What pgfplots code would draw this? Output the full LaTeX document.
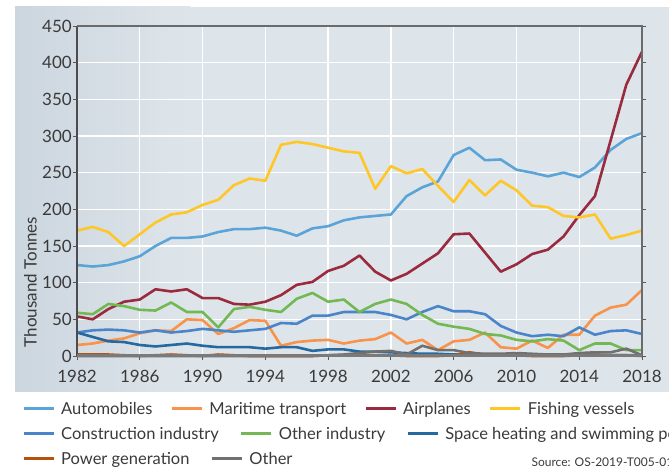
\documentclass[border=0pt]{standalone}
\usepackage{pgfplots}
\pgfplotsset{compat=1.18}
\usepackage{fontspec}
\setmainfont{Lato}
\definecolor{bg}{HTML}{DEE5EA}
\definecolor{bgl}{HTML}{CCD6DF}
\definecolor{cauto}{HTML}{5BA4D8}
\definecolor{cmar}{HTML}{F7934A}
\definecolor{cair}{HTML}{9A2A3E}
\definecolor{cfish}{HTML}{FFC627}
\definecolor{ccons}{HTML}{4A85C9}
\definecolor{cind}{HTML}{72B853}
\definecolor{cheat}{HTML}{2669A0}
\definecolor{cpow}{HTML}{B3530D}
\definecolor{coth}{HTML}{707070}
\definecolor{txt}{HTML}{3A3A3A}
\newcommand{\tickfont}{\fontsize{17}{17}\selectfont}
\newcommand{\legfont}{\fontsize{16.5}{17}\selectfont}

\pgfplotstableread{
year auto mar air fish cons ind heat pow oth
1982 124 15 54 171 32 59 32 2 0
1983 122 17 50 176 35 57 26 2 0
1984 124 21 64 169 36 71 20 2 0
1985 129 24 74 150 35 68 19 1 0
1986 136 31 77 166 32 63 15 0 0
1987 150 35 91 182 35 62 13 1 0
1988 161 34 88 193 32 73 15 2 0
1989 161 50 91 196 34 60 17 1 0
1990 163 49 79 206 37 60 14 0 0
1991 169 30 79 213 35 39 12 2 0
1992 173 38 71 233 33 64 12 1 0
1993 173 49 70 242 35 67 12 0 0
1994 175 48 74 239 37 63 10 0 0
1995 171 14 83 288 45 60 12 0 0
1996 164 19 97 292 44 78 12 0 0
1997 174 21 101 289 55 86 7 0 0
1998 177 22 116 284 55 74 9 1 1
1999 185 17 123 279 60 77 9 1 2
2000 189 21 137 277 60 60 6 1 4
2001 191 23 115 228 60 71 6 1 6
2002 193 32 103 259 56 77 5 1 7
2003 218 17 112 249 50 71 4 0 2
2004 230 22 126 255 60 56 3 0 14
2005 238 8 140 232 68 44 3 0 8
2006 274 20 166 210 61 40 2 1 8
2007 284 22 167 240 61 37 2 5 4
2008 267 32 141 219 57 30 1 2 3
2009 268 12 115 239 41 28 1 1 3
2010 254 10 125 226 32 22 1 1 4
2011 250 21 139 205 27 20 1 0 3
2012 245 11 145 203 29 23 1 0 2
2013 250 29 163 191 27 21 1 0 2
2014 244 29 192 189 39 8 1 1 4
2015 257 55 218 193 29 17 1 2 5
2016 281 66 294 160 34 17 1 1 5
2017 296 70 370 165 35 8 1 1 10
2018 304 90 415 171 30 8 1 0 1
}\datatable

\begin{document}
\begin{tikzpicture}
\useasboundingbox (0pt,0pt) rectangle (669pt,468pt);
\clip (0pt,0pt) rectangle (669pt,468pt);
\fill[bg] (15pt,76pt) rectangle (669pt,461pt);
\shade[left color=bgl, right color=bg] (15pt,76pt) rectangle (190pt,461pt);
\begin{axis}[
  at={(77pt,112pt)}, anchor=south west,
  scale only axis, width=565pt, height=330pt,
  xmin=1982, xmax=2018, ymin=0, ymax=450,
  xtick={1982,1986,...,2018}, ytick={0,50,...,450},
  grid=major, major grid style={white, line width=1.4pt},
  axis line style={draw=none},
  tick align=outside, major tick length=4pt,
  tick style={color=black!65, line width=0.9pt},
  xtick pos=left, ytick pos=both,
  ticklabel style={font=\tickfont, text=txt},
  /pgf/number format/assume math mode=true,
  xticklabel style={/pgf/number format/1000 sep=, yshift=-7pt},
  yticklabel style={inner xsep=1pt},
  clip=false,
  every axis plot/.append style={line width=2.6pt, line join=round},
]
\addplot[cauto, no marks] table[x=year, y=auto] {\datatable};
\addplot[cmar, no marks] table[x=year, y=mar] {\datatable};
\addplot[cair, no marks] table[x=year, y=air] {\datatable};
\addplot[cfish, no marks] table[x=year, y=fish] {\datatable};
\addplot[ccons, no marks] table[x=year, y=cons] {\datatable};
\addplot[cind, no marks] table[x=year, y=ind] {\datatable};
\addplot[cheat, no marks] table[x=year, y=heat] {\datatable};
\addplot[cpow, no marks] table[x=year, y=pow] {\datatable};
\addplot[coth, no marks] table[x=year, y=oth] {\datatable};
\draw[black!70, line width=1.4pt] (rel axis cs:0,0) -- (rel axis cs:0,1);
\draw[black!58, line width=2pt] (rel axis cs:0,1) -- (rel axis cs:1,1) -- (rel axis cs:1,0);
\draw[black!52, line width=3pt] (rel axis cs:0,0) -- (rel axis cs:1,0);
\end{axis}
\node[rotate=90, font=\tickfont, text=txt] at (30.5pt,186pt) {Thousand Tonnes};

\pgfplotsset{legrow/.style={hide axis, scale only axis, width=10pt, height=10pt,
  anchor=south west, xmin=0, xmax=1, ymin=0, ymax=1,
  legend image code/.code={\draw[##1] (0pt,0pt) -- (30pt,0pt); \path (34pt,0pt);},
  legend style={at={(0,0)}, anchor=west, draw=none, fill=none, inner sep=0pt,
    legend columns=-1, font=\legfont, text=txt,
    /tikz/every even column/.append style={column sep=#1}}}}
\begin{axis}[legrow=16pt, at={(22pt,59pt)}]
\addlegendimage{cauto, line width=3pt}\addlegendentry{Automobiles}
\addlegendimage{cmar, line width=3pt}\addlegendentry{Maritime transport}
\addlegendimage{cair, line width=3pt}\addlegendentry{Airplanes}
\addlegendimage{cfish, line width=3pt}\addlegendentry{Fishing vessels}
\end{axis}
\begin{axis}[legrow=19pt, at={(22pt,34pt)}]
\addlegendimage{ccons, line width=3pt}\addlegendentry{Construction industry}
\addlegendimage{cind, line width=3pt}\addlegendentry{Other industry}
\addlegendimage{cheat, line width=3pt}\addlegendentry{Space heating and swimming pools}
\end{axis}
\begin{axis}[legrow=19pt, at={(22pt,9pt)}]
\addlegendimage{cpow, line width=3pt}\addlegendentry{Power generation}
\addlegendimage{coth, line width=3pt}\addlegendentry{Other}
\end{axis}
\node[anchor=base west, font=\fontsize{12}{12}\selectfont, text=txt] at (528pt,1pt) {Source: OS-2019-T005-01};
\end{tikzpicture}
\end{document}
